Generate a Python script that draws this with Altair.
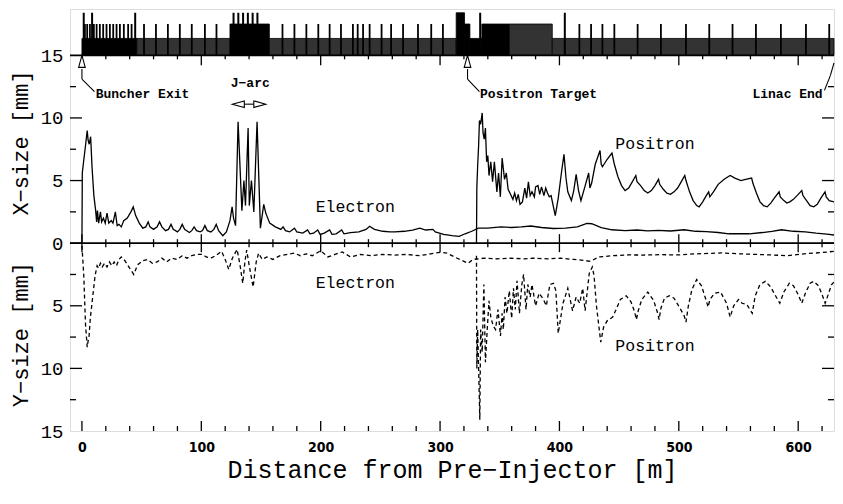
import altair as alt
import pandas as pd

# ---------------- data ----------------
# beam sizes: (distance [m], size [mm]); Y sizes are drawn downward (negative)
ELECTRON_X = [(0,0.0),(0.3,5.6),(1.5,6.6),(3,7.8),(4.4,9.0),(5.2,8.2),(6.1,7.9),(7.3,8.5),(8.5,6.0),(10,3.8),
 (11.5,2.6),(12.3,1.7),(13,2.6),(14,1.6),(15.5,2.5),(16.5,1.7),(18,2.0),(19.5,1.6),(21,2.4),(22.5,1.6),
 (24.5,1.8),(26,1.6),(28,2.5),(29.5,1.4),(31,1.5),(33,1.3),(35,1.8),(38,2.0),(41,2.5),(43,2.9),(45,2.2),
 (48,1.6),(51,1.2),(53.5,1.3),(55.5,1.7),(57,1.3),(60,1.1),(63,1.3),(65,1.7),(67,1.3),(70,1.0),(72.5,1.1),
 (74.6,1.5),(76.5,1.1),(80,0.9),(82,1.1),(84,1.5),(86,1.1),(90,0.85),(92,1.0),(94,1.3),(96,1.0),(99,0.9),
 (101,1.0),(103,1.4),(105,1.0),(108,0.9),(110.5,1.1),(112.5,1.5),(114.5,1.0),(118,0.6),(121,0.9),(124,1.8),
 (125.8,2.9),(127,2.0),(128.7,1.4),(130.8,9.7),(134,2.6),(135.7,5.0),(137,3.0),(139.2,9.2),(140.2,3.0),
 (142,5.0),(144,2.5),(146.7,9.7),(149.5,1.2),(152.3,3.1),(154,2.4),(157.3,1.6),(162,1.3),(166.7,1.1),
 (168.5,1.3),(170.5,1.0),(174,0.9),(178,1.2),(180,0.9),(185,0.8),(189,1.05),(191,0.75),(194,0.8),
 (197.5,1.05),(199.5,0.7),(203,0.8),(207.5,1.05),(209.5,0.7),(213,0.75),(217.6,1.05),(219.5,0.75),
 (225,0.85),(232,0.9),(238,1.1),(241,1.35),(245,1.1),(252,0.95),(258,0.9),(262,0.9),(270,0.95),(277,1.05),
 (283,1.2),(288,1.05),(294,1.1),(296,0.9),(303,0.7),(310,0.6),(316,0.55),(321,0.75),(326.6,0.95),(332,1.2),
 (340,1.2),(351,1.3),(360,1.25),(368,1.3),(376,1.37),(385,1.25),(395,1.17),(405,1.2),(415,1.3),(423,1.58),
 (427,1.55),(435,1.25),(444,1.07),(455,1.0),(465,1.05),(474,0.98),(483,1.02),(493,0.97),(504.5,1.07),
 (514,0.95),(523,0.92),(533,0.85),(542,0.75),(550,0.75),(559,0.75),(570,0.85),(578,0.95),(586,1.07),
 (596,0.95),(606,0.9),(615,0.8),(624,0.73),(630,0.65)]

POSITRON_X = [(330.5,0.0),(330.8,4.4),(331.5,6.2),(332.3,7.8),(333,9.8),(334,9.5),(335.3,10.4),(336,8.8),
 (337,8.3),(338,9.2),(339,6.5),(340,7.0),(341,5.4),(342.5,6.5),(344,4.9),(345.5,6.5),(347.6,4.1),(349,5.6),
 (350.5,3.7),(352,6.8),(354,5.1),(355.5,5.6),(357,4.3),(359,3.9),(361,3.5),(362.5,4.0),(364,3.4),(365.5,3.9),
 (367,3.1),(369,3.3),(371,4.4),(372.5,3.6),(374,4.9),(375.5,3.8),(377,4.1),(379,3.7),(380,4.5),(382,4.6),
 (383.5,3.9),(385,4.5),(387,3.8),(388.5,4.4),(390,4.0),(391.5,3.7),(393,3.8),(396.5,2.2),(399,3.6),
 (401.5,5.5),(403.8,7.1),(405.5,5.2),(407,4.1),(410,3.4),(412,4.2),(414,5.5),(416,4.2),(418,3.4),(421,4.4),
 (424.5,5.6),(425.5,4.4),(427,4.8),(430,6.3),(434,7.4),(435,6.3),(436,6.1),(440,6.7),(444,7.2),(446,6.3),
 (449,5.3),(452,4.6),(455,4.2),(458,4.4),(461,4.9),(464,5.4),(465,4.9),(468,4.6),(471,4.2),(474,4.0),
 (477,4.2),(480,4.6),(483,5.1),(484,4.7),(487,4.3),(490,4.0),(493,3.9),(496,4.1),(499,4.4),(502,4.9),
 (505,5.4),(506,5.0),(509,4.1),(512,3.4),(515,3.0),(517,2.9),(520,3.3),(523,3.8),(525,4.1),(526,3.7),
 (529,4.1),(533,4.7),(538,5.1),(543,5.4),(547,5.2),(552,5.0),(556,5.1),(561,5.2),(562,4.8),(565,4.0),
 (568,3.3),(571,3.0),(574,2.9),(577,3.2),(580,3.6),(584,4.1),(585,3.7),(588,3.4),(590.5,3.2),(593,3.3),
 (596,3.5),(600,3.9),(603,4.2),(604,3.8),(607,3.4),(610,3.0),(613,2.9),(616,3.1),(619,3.6),(622.5,4.1),
 (623.5,3.7),(626,3.4),(630,3.3)]

ELECTRON_Y = [(0,-0.2),(1.5,-2.5),(3,-6.5),(4.4,-8.3),(5.2,-7.8),(6,-7.4),(7,-6.0),(9,-4.3),(11,-2.6),
 (12.7,-1.8),(14,-2.0),(15.5,-1.6),(17,-1.9),(19,-1.6),(21,-1.9),(23,-1.5),(25,-1.8),(27,-1.5),(29,-1.8),
 (31,-1.3),(33,-1.1),(36,-1.4),(40,-2.0),(43.4,-2.5),(45.5,-2.0),(47,-1.7),(51,-1.4),(55,-1.3),(59,-1.6),
 (63,-1.5),(67,-1.2),(71,-1.5),(75,-1.2),(80,-1.3),(84,-1.0),(88,-1.2),(92,-1.0),(96,-0.9),(101,-0.9),
 (104,-1.1),(108,-1.2),(112,-1.0),(117,-0.65),(120,-1.3),(123,-2.1),(126,-1.2),(130,-0.5),(132.5,-1.8),
 (134.7,-3.2),(136.5,-1.5),(138,-0.55),(140.5,-2.0),(143.4,-3.5),(146,-1.5),(148,-0.8),(151,-1.3),
 (155,-1.1),(160,-1.3),(166,-1.0),(172,-0.9),(178,-0.8),(183,-1.0),(188,-0.85),(193,-1.0),(200,-0.6),
 (206,-1.1),(212,-0.9),(218,-0.7),(225,-1.1),(233,-0.9),(242,-1.0),(252,-0.9),(262,-0.95),(272,-0.9),
 (283,-1.0),(292,-0.85),(300,-0.73),(306,-0.8),(312,-1.1),(318,-1.37),(323.4,-1.6),(327.6,-1.3),
 (337,-1.2),(348,-1.25),(359,-1.2),(370,-1.25),(378,-1.2),(390,-1.25),(401,-1.2),(412,-1.3),(420,-1.37),
 (426,-1.45),(433,-1.1),(445,-1.0),(458,-0.94),(470,-0.95),(485,-0.92),(500,-0.94),(515,-0.85),
 (536,-0.78),(550,-0.85),(565,-0.9),(580,-0.95),(591,-1.0),(605,-0.85),(620,-0.75),(630,-0.65)]

POSITRON_Y = [(330.5,-1.0),(330.8,-10.0),(331.5,-6.9),(332.3,-10.0),(333.3,-14.1),(334,-6.9),(335.3,-8.7),
 (336.7,-3.3),(338,-9.5),(339.5,-6.9),(341,-4.6),(342.5,-5.9),(344.5,-6.6),(346.5,-6.9),(348.5,-5.3),
 (350.6,-7.4),(352,-5.6),(353,-6.9),(354.5,-4.3),(356,-5.6),(358,-3.8),(360,-6.0),(361.5,-3.6),(363,-5.3),
 (364.5,-3.0),(366.5,-5.6),(368.5,-3.3),(370,-2.5),(372,-5.3),(373.5,-3.3),(375.5,-4.3),(377,-3.3),
 (380,-5.0),(383,-4.0),(386.6,-4.5),(389,-5.0),(392,-3.3),(395,-3.2),(397,-3.8),(399,-7.2),(403,-4.8),
 (407,-3.6),(411,-5.4),(414,-4.3),(417,-4.8),(419.5,-3.6),(421.5,-5.4),(425,-2.4),(427.5,-1.9),(429,-2.6),
 (431,-5.0),(434.6,-7.9),(437,-6.7),(440,-6.2),(444.6,-5.9),(447,-5.4),(451,-4.5),(456,-4.2),(460,-4.7),
 (463,-5.5),(464.5,-6.1),(466,-5.4),(469,-4.5),(474,-3.9),(479,-4.6),(482,-5.5),(483.5,-6.1),(485,-5.2),
 (488,-4.4),(492,-4.2),(496,-4.4),(501,-5.2),(504.5,-5.8),(506,-6.3),(508,-5.0),(511,-3.7),(515,-2.9),
 (519,-3.4),(523,-4.6),(524.6,-5.1),(526,-4.5),(530,-4.0),(535,-3.9),(540,-4.8),(543,-5.9),(546,-5.0),
 (550,-4.5),(553,-4.8),(557,-4.9),(561.5,-5.6),(564,-4.2),(568,-3.3),(572.5,-3.05),(577,-3.5),(581,-4.2),
 (584.6,-4.8),(588,-3.9),(592.6,-3.2),(596,-3.4),(600,-4.1),(603,-4.8),(606,-4.0),(610,-3.2),(613,-3.05),
 (617,-3.4),(620,-4.1),(622.6,-4.8),(625.5,-4.0),(628,-3.3),(630,-3.1)]

# lattice (beam-line elements) drawn above the 15 mm line
LATTICE_BASE = 15.0
SEG_START = [0, 46, 124, 157, 313.5, 320.5, 325, 335, 358, 394]
SEG_END = [46, 124, 157, 313.5, 320.5, 325, 335, 358, 394, 630]
SEG_TOP = [16.35, 16.35, 17.5, 16.35, 18.4, 17.5, 16.35, 17.5, 17.5, 16.35]
SEG_KIND = ["dense", "sparse", "dense", "sparse", "dense", "dense", "dense", "dense", "sparse", "sparse"]
MEDIUM_TOP = 17.5
MEDIUM_ELEMENTS = [2.5, 4.4, 6.7, 10, 12.3, 15, 17.8, 20.6, 23.4, 26.2, 29, 31.8, 35.1, 38.7, 41.6,
                   52, 62, 72, 82, 92, 103, 112.7, 168, 178, 188, 198, 207.5, 217, 227, 231, 235.5, 241,
                   251, 259, 269, 281.5, 292.6, 302.4, 416.7, 426.5, 436, 446, 465.5, 485, 506, 525.5,
                   545, 564.6, 585.5, 606.5, 626]
TALL_TOP = 18.4
TALL_ELEMENTS = [1.5, 8.5, 44.6, 127, 131, 135, 139, 143, 147, 333.6, 404.5]

# axis ticks / labels
X_MAJOR = [0, 100, 200, 300, 400, 500, 600]
X_MINOR = [20, 40, 60, 80, 120, 140, 160, 180, 220, 240, 260, 280, 320, 340, 360, 380,
           420, 440, 460, 480, 520, 540, 560, 580, 620]
Y_MAJOR = [-15, -10, -5, 0, 5, 10, 15]
Y_MINOR = [-12.5, -7.5, -2.5, 2.5, 7.5, 12.5]

# text annotations
CURVE_LABELS = ["Electron", "Positron", "Electron", "Positron"]
CURVE_LABEL_X = [229, 480, 229, 480]
CURVE_LABEL_Y = [2.9, 7.9, -3.2, -8.2]
NOTE_TEXT = ["Buncher Exit", "Positron Target", "J\u2212arc"]
NOTE_X = [11.5, 333.5, 141]
NOTE_Y = [11.9, 11.9, 12.8]
NOTE_ALIGN_RIGHT_TEXT = "Linac End"
NOTE_RIGHT_X, NOTE_RIGHT_Y = 620.5, 11.9
MARKER_X = [0, 323]          # hollow arrow heads on the 15 mm line
LEADER = [(0, 13.9, 0, 13.1), (0, 13.1, 10.5, 12.1),
          (323, 13.9, 323, 13.1), (323, 13.1, 333, 12.1),
          (630, 14.4, 627, 13.4), (627, 13.4, 622, 12.2),
          (136, 11.1, 144, 11.1)]
JARC_LEFT, JARC_RIGHT, JARC_Y = 131, 149, 11.1

# ---------------- chart geometry ----------------
W, H = 764, 422
XDOM = [-10, 630]
YDOM = [-15, 18.7]
PPM = W / (XDOM[1] - XDOM[0])
PPMM = H / (YDOM[1] - YDOM[0])

MONO = "Liberation Mono"
NARROW = "Liberation Sans Narrow, DejaVu Sans Condensed, Arial Narrow, sans-serif"

XS = alt.Scale(domain=XDOM, nice=False, zero=False)
YS = alt.Scale(domain=YDOM, nice=False, zero=False)
XAX = alt.Axis(values=X_MAJOR, ticks=False, domain=False, grid=False, labelFont=NARROW,
               labelFontSize=14, labelFontWeight="bold", labelPadding=9, labelFlush=False,
               labelColor="black", title="Distance from Pre\u2212Injector [m]", titleFont=MONO,
               titleFontSize=25, titleFontWeight="normal", titlePadding=3, titleColor="black")
YAX = alt.Axis(values=Y_MAJOR, labelExpr="'' + abs(datum.value)", ticks=False, domain=False,
               grid=False, labelFont=MONO, labelFontSize=19, labelPadding=7, labelFlush=False,
               labelColor="black", title=None)


def X(f):
    return alt.X(f, type="quantitative", scale=XS, axis=XAX)


def Y(f):
    return alt.Y(f, type="quantitative", scale=YS, axis=YAX)


layers = []

# lattice band
seg = pd.DataFrame({"x": SEG_START, "x2": SEG_END, "y": [LATTICE_BASE] * len(SEG_START),
                    "y2": SEG_TOP, "kind": SEG_KIND})
layers.append(alt.Chart(seg).mark_rect(stroke="black", strokeWidth=0.8).encode(
    x=X("x"), x2="x2", y=Y("y"), y2="y2",
    color=alt.Color("kind:N", scale=alt.Scale(domain=["dense", "sparse"], range=["black", "#333333"]),
                    legend=None)))
med = pd.DataFrame({"x": MEDIUM_ELEMENTS, "y": [LATTICE_BASE] * len(MEDIUM_ELEMENTS),
                    "y2": [MEDIUM_TOP] * len(MEDIUM_ELEMENTS)})
layers.append(alt.Chart(med).mark_rule(color="black", strokeWidth=1.8).encode(x=X("x"), y=Y("y"), y2="y2"))
tall = pd.DataFrame({"x": TALL_ELEMENTS, "y": [LATTICE_BASE] * len(TALL_ELEMENTS),
                     "y2": [TALL_TOP] * len(TALL_ELEMENTS)})
layers.append(alt.Chart(tall).mark_rule(color="black", strokeWidth=2).encode(x=X("x"), y=Y("y"), y2="y2"))

# horizontal reference lines (0 and 15 mm)
layers.append(alt.Chart(pd.DataFrame({"y": [0, LATTICE_BASE]})).mark_rule(color="black", strokeWidth=1.6)
              .encode(y=Y("y")))


# tick decorations drawn through the scales
def vticks(xs, y0, y1):
    return pd.DataFrame({"x": xs, "y": [y0] * len(xs), "y2": [y1] * len(xs)})


def hticks(ys, x0, x1):
    return pd.DataFrame({"y": ys, "x": [x0] * len(ys), "x2": [x1] * len(ys)})


tick_frames_v = [
    vticks(X_MAJOR, YDOM[0], YDOM[0] + 10 / PPMM), vticks(X_MINOR, YDOM[0], YDOM[0] + 5 / PPMM),
    vticks(X_MAJOR, -9 / PPMM, 9 / PPMM), vticks(X_MINOR, -4 / PPMM, 4 / PPMM),
    vticks(X_MAJOR, LATTICE_BASE - 10 / PPMM, LATTICE_BASE),
    vticks(X_MINOR, LATTICE_BASE - 4 / PPMM, LATTICE_BASE),
]
tick_frames_h = [
    hticks(Y_MAJOR[1:-1], XDOM[0], XDOM[0] + 12 / PPM), hticks(Y_MINOR, XDOM[0], XDOM[0] + 6 / PPM),
    hticks(Y_MAJOR[1:-1], XDOM[1] - 12 / PPM, XDOM[1]), hticks(Y_MINOR, XDOM[1] - 6 / PPM, XDOM[1]),
]
layers.append(alt.Chart(pd.concat(tick_frames_v, ignore_index=True)).mark_rule(color="black", strokeWidth=1.3)
              .encode(x=X("x"), y=Y("y"), y2="y2"))
layers.append(alt.Chart(pd.concat(tick_frames_h, ignore_index=True)).mark_rule(color="black", strokeWidth=1.3)
              .encode(x=X("x"), x2="x2", y=Y("y")))


# beam-size curves
def series(pairs):
    return pd.DataFrame({"s": [p[0] for p in pairs], "v": [p[1] for p in pairs], "i": range(len(pairs))})


for pairs, dash in [(ELECTRON_X, None), (POSITRON_X, None), (ELECTRON_Y, [4, 3]), (POSITRON_Y, [4, 3])]:
    kw = dict(color="black", strokeWidth=1.3, clip=True)
    if dash:
        kw["strokeDash"] = dash
    layers.append(alt.Chart(series(pairs)).mark_line(**kw).encode(x=X("s"), y=Y("v"), order="i:Q"))

# curve labels
cl = pd.DataFrame({"t": CURVE_LABELS, "x": CURVE_LABEL_X, "y": CURVE_LABEL_Y})
layers.append(alt.Chart(cl).mark_text(font=MONO, fontSize=16.5, color="black", baseline="middle",
                                      align="center").encode(x=X("x"), y=Y("y"), text="t:N"))

# annotations
nt = pd.DataFrame({"t": NOTE_TEXT, "x": NOTE_X, "y": NOTE_Y})
layers.append(alt.Chart(nt.iloc[:2]).mark_text(font=MONO, fontSize=13, fontWeight="bold", color="black",
                                               baseline="middle", align="left")
              .encode(x=X("x"), y=Y("y"), text="t:N"))
layers.append(alt.Chart(nt.iloc[2:]).mark_text(font=MONO, fontSize=13, fontWeight="bold", color="black",
                                               baseline="middle", align="center")
              .encode(x=X("x"), y=Y("y"), text="t:N"))
layers.append(alt.Chart(pd.DataFrame({"t": [NOTE_ALIGN_RIGHT_TEXT], "x": [NOTE_RIGHT_X], "y": [NOTE_RIGHT_Y]}))
              .mark_text(font=MONO, fontSize=13, fontWeight="bold", color="black", baseline="middle",
                         align="right").encode(x=X("x"), y=Y("y"), text="t:N"))

lead = pd.DataFrame(LEADER, columns=["x", "y", "x2", "y2"])
layers.append(alt.Chart(lead).mark_rule(color="black", strokeWidth=1.1)
              .encode(x=X("x"), y=Y("y"), x2="x2", y2="y2"))

mk = pd.DataFrame({"x": MARKER_X, "y": [LATTICE_BASE - 6 / PPMM] * len(MARKER_X)})
layers.append(alt.Chart(mk).mark_point(shape="M0,-1L0.55,1L-0.55,1Z", size=144, filled=True,
                                       fill="white", stroke="black", strokeWidth=1.1, opacity=1)
              .encode(x=X("x"), y=Y("y")))
layers.append(alt.Chart(pd.DataFrame({"x": [JARC_LEFT], "y": [JARC_Y]}))
              .mark_point(shape="M-1,0L1,-0.55L1,0.55Z", size=144, filled=True, fill="white",
                          stroke="black", strokeWidth=1.1, opacity=1).encode(x=X("x"), y=Y("y")))
layers.append(alt.Chart(pd.DataFrame({"x": [JARC_RIGHT], "y": [JARC_Y]}))
              .mark_point(shape="M1,0L-1,-0.55L-1,0.55Z", size=144, filled=True, fill="white",
                          stroke="black", strokeWidth=1.1, opacity=1).encode(x=X("x"), y=Y("y")))

# vertical axis titles for the two halves
yt = pd.DataFrame({"t": ["X\u2212size [mm]", "Y\u2212size [mm]"], "y": [8.0, -7.3]})
layers.append(alt.Chart(yt).mark_text(font=MONO, fontSize=22, color="black", angle=270,
                                      baseline="middle", align="center")
              .encode(x=alt.value(-49), y=Y("y"), text="t:N"))

chart = (alt.layer(*layers)
         .properties(width=W, height=H,
                     padding={"left": 62, "top": 1, "right": 1, "bottom": 58},
                     autosize=alt.AutoSizeParams(type="none"))
         .configure_view(stroke="black", strokeWidth=1.6)
         .configure(background="white"))

chart.save("out.html", embed_options={"renderer": "svg", "actions": False})
